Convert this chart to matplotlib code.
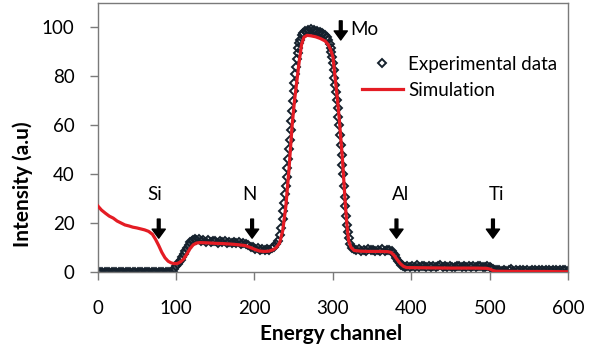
import matplotlib.pyplot as plt

# Experimental spectrum (channel, intensity)
exp_channel = [0, 3, 6, 9, 12, 15, 18, 21, 24, 27, 30, 33, 36, 39, 42, 45, 48, 51, 54, 57,
               60, 63, 66, 69, 72, 75, 78, 81, 84, 87, 90, 93, 96,
               98, 100, 102, 104, 106, 108, 110, 112, 114, 116, 118, 120, 122, 124, 126,
               129, 132, 135, 138, 141, 144, 147, 150, 153, 156, 159, 162, 165, 168, 171,
               174, 177, 180, 183, 186, 189,
               192, 195, 198, 201, 204, 207, 210, 213, 216, 219, 222, 225, 228, 230, 232,
               234, 236, 237, 238, 239, 240, 241, 242, 243, 244, 245, 246, 247, 248, 249,
               250, 251, 252, 253, 254, 255, 256, 257, 258, 260, 262, 264, 266, 268, 270,
               272, 274, 276, 278, 280, 282, 284, 286, 288, 290, 292, 294, 296, 297, 298,
               299, 300, 301, 302, 303, 304, 305, 306, 307, 308, 309, 310, 311, 312, 313,
               314, 315, 316, 317, 318, 319, 320, 322, 324,
               327, 330, 333, 336, 339, 342, 345, 348, 351, 354, 357, 360, 363, 366, 369,
               372, 375, 377, 379, 381, 383, 385, 387, 389,
               392, 395, 398, 401, 404, 407, 410, 413, 416, 419, 422, 425, 428, 431, 434,
               437, 440, 443, 446, 449, 452, 455, 458, 461, 464, 467, 470, 473, 476, 479,
               482, 485, 488, 491, 494, 497, 500, 502, 504, 506,
               509, 512, 515, 518, 521, 524, 527, 530, 533, 536, 539, 542, 545, 548, 551,
               554, 557, 560, 563, 566, 569, 572, 575, 578, 581, 584, 587, 590, 593, 596, 599]
exp_intensity = [0, 0, 0, 0, 0, 0, 0, 0, 0, 0, 0, 0, 0, 0, 0, 0, 0, 0, 0, 0,
                 0, 0, 0, 0, 0, 0, 0, 0, 0, 0, 0, 0, 0,
                 1.5, 2.8, 3.6, 4.2, 5.0, 6.2, 7.4, 8.8, 10.0, 11.2, 12.3, 12.8, 13.4, 13.6, 13.2,
                 13.5, 12.8, 13.4, 12.6, 13.1, 12.4, 13.0, 12.7, 12.2, 12.9, 12.3, 12.8, 12.1, 12.6, 11.9,
                 12.5, 12.0, 12.4, 11.8, 12.2, 11.6,
                 11.2, 10.6, 10.3, 9.6, 9.9, 9.2, 9.5, 9.0, 9.6, 9.3, 10.0, 10.6, 11.8, 13.0, 15.2,
                 18.0, 22.0, 25.0, 28.5, 32.0, 35.5, 39.0, 42.5, 46.5, 50.5, 54.0, 58.0, 62.0, 66.0, 70.0,
                 74.0, 77.5, 81.0, 84.0, 87.0, 89.5, 91.5, 93.5, 95.0, 96.8, 97.8, 98.6, 98.2, 99.0, 98.4,
                 99.2, 98.5, 98.9, 98.2, 98.7, 97.9, 98.3, 97.6, 97.2, 96.8, 96.0, 94.8, 93.2, 91.8, 90.0,
                 88.0, 85.5, 82.5, 79.5, 76.5, 73.5, 70.5, 67.0, 63.5, 60.0, 56.0, 52.0, 48.0, 44.0, 40.0,
                 35.5, 31.0, 27.0, 23.0, 19.5, 16.5, 14.0, 11.5, 10.0,
                 9.6, 9.0, 9.5, 8.9, 9.3, 8.8, 9.4, 9.0, 9.3, 8.7, 9.2, 8.9, 9.4, 8.8, 9.2,
                 9.0, 8.6, 8.0, 7.0, 5.8, 4.6, 3.7, 3.0, 2.6,
                 2.4, 2.8, 2.2, 2.6, 2.3, 2.9, 2.2, 2.5, 2.7, 2.1, 2.6, 2.4, 2.8, 2.2, 2.5,
                 2.9, 2.3, 2.6, 2.1, 2.7, 2.4, 2.2, 2.8, 2.5, 2.3, 2.7, 2.2, 2.6, 2.4, 2.8,
                 2.3, 2.5, 2.6, 2.2, 2.4, 2.5, 2.1, 1.7, 1.3, 1.0,
                 0.9, 1.2, 0.8, 1.1, 0.7, 1.0, 1.3, 0.8, 1.0, 0.7, 1.2, 0.9, 0.8, 1.1, 0.7,
                 1.0, 1.2, 0.8, 0.9, 1.1, 0.7, 1.0, 1.2, 0.8, 0.9, 1.1, 0.6, 1.0, 0.9, 1.2, 0.8]

# Simulated spectrum
sim_channel = [0, 5, 10, 15, 20, 25, 30, 35, 40, 45, 50, 55, 60, 65, 70, 74, 78, 82, 86, 90,
               94, 98, 102, 106, 110, 114, 118, 122, 126, 130, 140, 150, 160, 170, 180, 188,
               194, 200, 206, 212, 218, 224, 228, 232, 236, 240, 244, 248, 251, 254, 257,
               260, 263, 267, 272, 278, 284, 290, 294, 297, 300, 302, 304, 306, 308, 310,
               312, 314, 316, 318, 320, 323, 327, 335, 345, 360, 370, 374, 378, 382, 386,
               390, 394, 420, 450, 480, 496, 500, 504, 508, 540, 570, 600]
sim_intensity = [27.3, 25.5, 24.2, 23.0, 22.2, 21.0, 20.2, 19.4, 19.0, 18.5, 18.2, 17.8, 17.4, 16.8, 15.6, 13.5, 11.0, 8.2, 6.0, 4.6,
                 3.9, 3.6, 3.7, 4.4, 5.6, 7.6, 9.8, 11.3, 12.0, 12.2, 12.1, 11.9, 11.8, 11.6, 11.3, 11.0,
                 10.3, 9.5, 8.8, 8.6, 8.7, 9.3, 10.3, 12.0, 17.0, 27.0, 42.0, 60.0, 70.0, 78.0, 86.0,
                 93.0, 96.0, 96.8, 96.6, 96.2, 95.5, 94.5, 93.0, 91.0, 88.0, 82.0, 76.0, 70.0, 63.0, 55.0,
                 47.0, 37.0, 27.0, 19.0, 13.0, 10.3, 9.0, 8.7, 8.6, 8.6, 8.5, 8.2, 7.0, 5.2, 3.6,
                 2.5, 2.0, 1.9, 1.8, 1.8, 1.7, 1.4, 0.8, 0.5, 0.4, 0.4, 0.3]

# element markers: label, arrow channel, arrow top, arrow tip, text x, text y
elements = ['Si', 'N', 'Mo', 'Al', 'Ti']
arrow_x = [78, 197, 310, 381, 504]
arrow_top = [21.8, 21.8, 102.7, 21.8, 21.8]
arrow_tip = [14.0, 14.0, 94.9, 14.0, 14.0]
label_x = [73, 193, 321.5, 386.5, 509]
label_y = [32, 32, 99, 32, 32]

plt.rcParams['font.family'] = ['Lato', 'DejaVu Sans']

fig = plt.figure(figsize=(6.02, 3.47), dpi=100)
ax = fig.add_axes([0.162, 0.2147, 0.782, 0.7767])

ax.plot(exp_channel, exp_intensity, linestyle='none', marker='D', markersize=3.8,
        markerfacecolor='none', markeredgecolor='#15212d', markeredgewidth=1.4,
        label='Experimental data', zorder=2)
ax.plot(sim_channel, sim_intensity, color='#e41c24', linewidth=2.3,
        label='Simulation', zorder=3)

for name, ax_x, top, tip, tx, ty in zip(elements, arrow_x, arrow_top, arrow_tip, label_x, label_y):
    ax.annotate('', xy=(ax_x, tip), xytext=(ax_x, top),
                arrowprops=dict(facecolor='black', edgecolor='black', width=2.0,
                                headwidth=9.5, headlength=6.5, shrink=0))
    ha = 'left' if name == 'Mo' else 'center'
    ax.text(tx, ty, name, ha=ha, va='center', fontsize=13.5)

ax.set_xlim(0, 600)
ax.set_ylim(0, 110)
ax.set_xticks([0, 100, 200, 300, 400, 500, 600])
ax.set_yticks([0, 20, 40, 60, 80, 100])
ax.tick_params(axis='both', direction='out', length=5.5, width=1, color='#7a7a7a',
               labelsize=13.5, labelcolor='black')
ax.tick_params(axis='x', pad=14)
ax.tick_params(axis='y', pad=11)
for s in ax.spines.values():
    s.set_color('#7a7a7a')
    s.set_linewidth(1)

ax.set_xlabel('Energy channel', fontsize=15, fontweight='bold')
ax.set_ylabel('Intensity (a.u)', fontsize=15, fontweight='bold')
ax.xaxis.set_label_coords(0.496, -0.19)
ax.yaxis.set_label_coords(-0.137, 0.328)

ax.legend(loc='upper left', bbox_to_anchor=(0.561, 0.805), frameon=False,
          fontsize=13.5, numpoints=1, handlelength=2.2, handletextpad=0.3,
          labelspacing=0.5, borderpad=0, borderaxespad=0)

fig.savefig('out.png', dpi=100)
